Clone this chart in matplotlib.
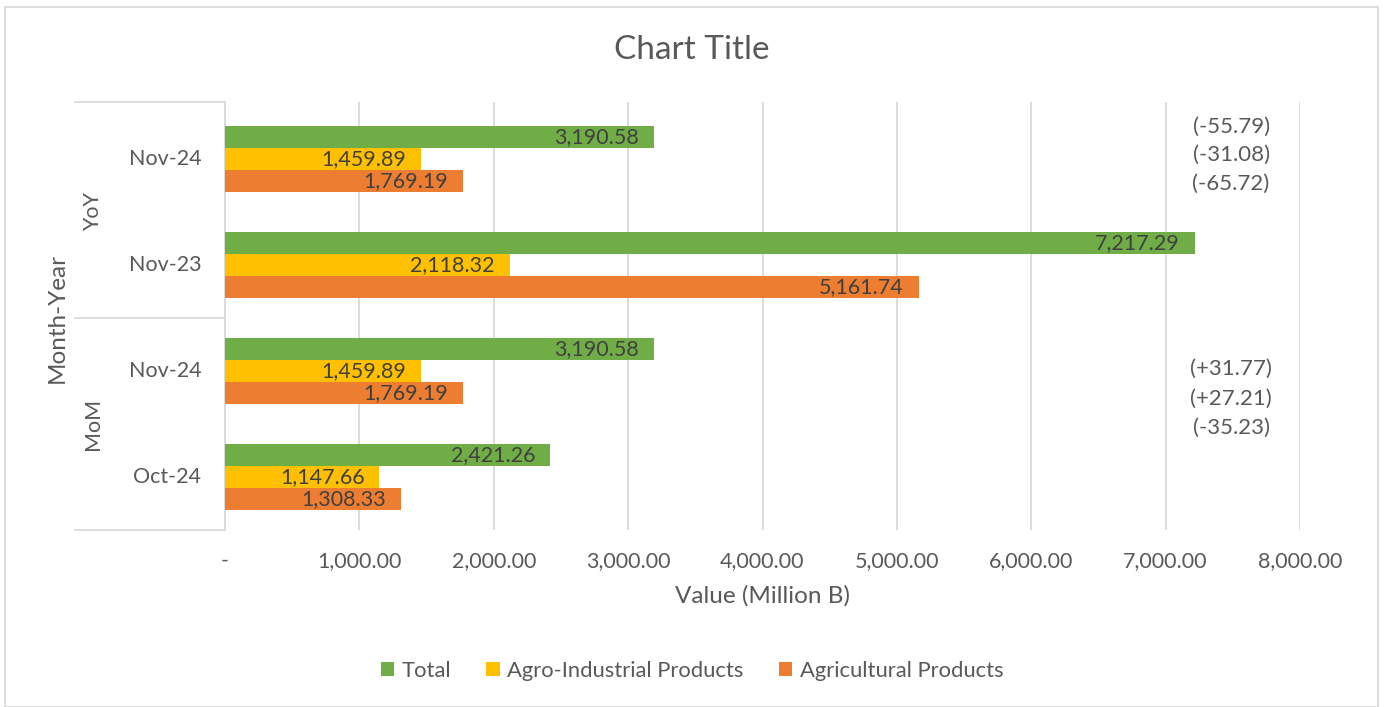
import numpy as np
import matplotlib.pyplot as plt
from matplotlib.lines import Line2D
from matplotlib.patches import Rectangle

plt.rcParams['font.family'] = ['Lato', 'DejaVu Sans']

# categories bottom to top (Excel order)
groups = ['MoM', 'MoM', 'YoY', 'YoY']
months = ['Oct-24', 'Nov-24', 'Nov-23', 'Nov-24']
total = [2421.26, 3190.58, 7217.29, 3190.58]
agro_ind = [1147.66, 1459.89, 2118.32, 1459.89]
agri = [1308.33, 1769.19, 5161.74, 1769.19]
yoy_notes = ['(-55.79)', '(-31.08)', '(-65.72)']
mom_notes = ['(+31.77)', '(+27.21)', '(-35.23)']
xticks = [0, 1000, 2000, 3000, 4000, 5000, 6000, 7000, 8000]

c_total = '#70AD47'
c_agro = '#FFC000'
c_agri = '#ED7D31'
grey = '#595959'
grid = '#D9D9D9'

W, H = 1384, 707
fig = plt.figure(figsize=(W / 100, H / 100), dpi=100)
left, right, top, bot = 225, 1300, 102, 530
ax = fig.add_axes([left / W, 1 - bot / H, (right - left) / W, (bot - top) / H])

y = np.arange(len(months))
h = 0.208
series = [(total, c_total, 'Total', h),
          (agro_ind, c_agro, 'Agro-Industrial Products', 0),
          (agri, c_agri, 'Agricultural Products', -h)]
for vals, col, lab, off in series:
    bars = ax.barh(y + off, vals, height=h, color=col, label=lab, zorder=3)
    for b, v in zip(bars, vals):
        ax.text(v - 110, b.get_y() + h / 2, f'{v:,.2f}', ha='right', va='center',
                fontsize=15.5, color='#404040', zorder=4)

ax.set_xlim(0, 8000)
ax.set_ylim(-0.5, 3.54)
ax.set_xticks(xticks)
ax.set_xticklabels(['-'] + [f'{v:,.2f}' for v in xticks[1:]], fontsize=15.5, color=grey)
ax.tick_params(axis='x', length=0, pad=15)
ax.set_yticks([])
ax.grid(axis='x', color=grid, linewidth=1.3, zorder=0)
for s in ['top', 'right', 'bottom']:
    ax.spines[s].set_visible(False)
ax.spines['left'].set_color(grid)
ax.spines['left'].set_linewidth(1.3)
ax.set_xlabel('Value (Million B)', fontsize=17.5, color=grey, labelpad=10)

# right side change notes
for i, t in enumerate(yoy_notes):
    ax.text(7487, 3.31 - i * 0.272, t, ha='center', va='center', fontsize=16, color=grey)
for i, t in enumerate(mom_notes):
    ax.text(7487, 1.02 - i * 0.28, t, ha='center', va='center', fontsize=16, color=grey)

# hierarchical category axis
for yy in [top, 318, bot]:
    fig.add_artist(Line2D([75 / W, left / W], [1 - yy / H, 1 - yy / H], color=grid, lw=1.3))
for i, m in enumerate(months):
    ax.text(-0.022, y[i], m, transform=ax.get_yaxis_transform(), ha='right', va='center',
            fontsize=15.5, color=grey)
fig.text(93 / W, 1 - 424 / H, groups[0], rotation=90, ha='center', va='center', fontsize=15.5, color=grey)
fig.text(93 / W, 1 - 212 / H, groups[2], rotation=90, ha='center', va='center', fontsize=15.5, color=grey)
fig.text(57 / W, 1 - 318 / H, 'Month-Year', rotation=90, ha='center', va='center', fontsize=17.5, color=grey)

fig.text(0.5, 1 - 50 / H, 'Chart Title', ha='center', va='center', fontsize=24, color=grey)

leg = fig.legend(loc='center', bbox_to_anchor=(0.5, 1 - 671 / H), ncol=3, frameon=False,
                 fontsize=15.8, handlelength=0.6, handleheight=0.6, columnspacing=1.6,
                 handletextpad=0.35)
for t in leg.get_texts():
    t.set_color(grey)

fig.add_artist(Rectangle((5 / W, 0), 1373 / W, 1 - 7 / H, fill=False, edgecolor=grid, lw=1.3))

fig.savefig('out.png', dpi=100)
